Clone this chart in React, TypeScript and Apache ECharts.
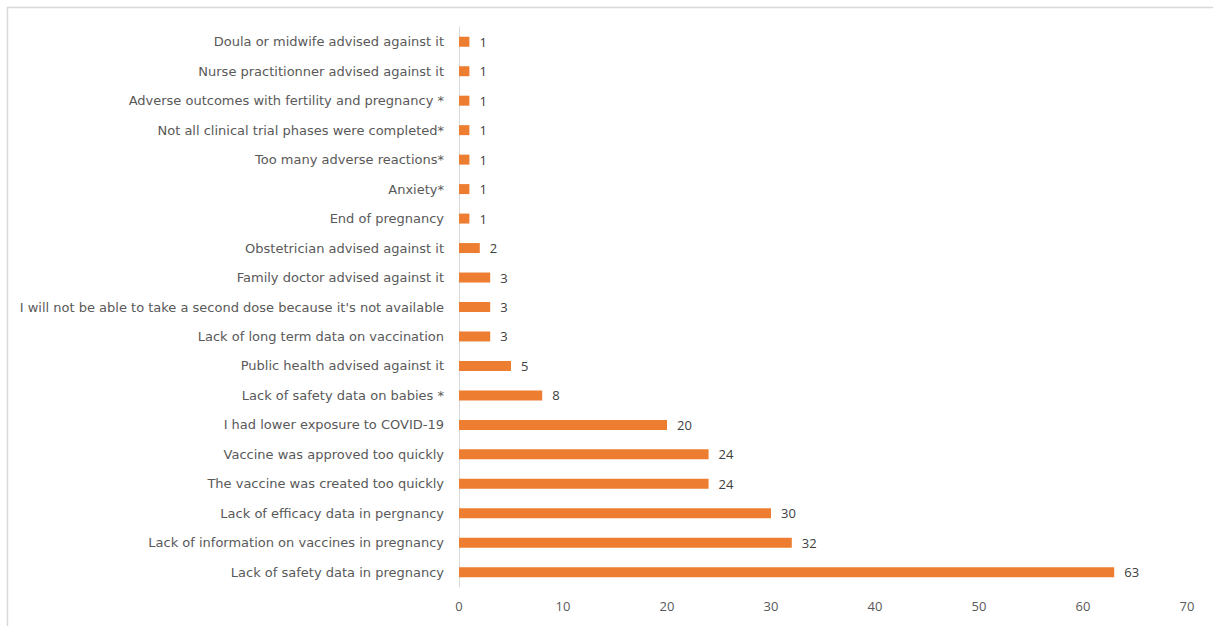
import React, { useEffect, useRef } from "react";
import * as echarts from "echarts";

const categories = [
  "Lack of safety data in pregnancy",
  "Lack of information on vaccines in pregnancy",
  "Lack of efficacy data in pergnancy",
  "The vaccine was created too quickly",
  "Vaccine was approved too quickly",
  "I had lower exposure to COVID-19",
  "Lack of safety data on babies *",
  "Public health advised against it",
  "Lack of long term data on vaccination",
  "I will not be able to take a second dose because it's not available",
  "Family doctor advised against it",
  "Obstetrician advised against it",
  "End of pregnancy",
  "Anxiety*",
  "Too many adverse reactions*",
  "Not all clinical trial phases were completed*",
  "Adverse outcomes with fertility and pregnancy *",
  "Nurse practitionner advised against it",
  "Doula or midwife advised against it",
];
const values = [63, 32, 30, 24, 24, 20, 8, 5, 3, 3, 3, 2, 1, 1, 1, 1, 1, 1, 1];
const xTicks = { min: 0, max: 70, interval: 10 };

export default function App() {
  const ref = useRef<HTMLDivElement>(null);
  useEffect(() => {
    if (!ref.current) return;
    const chart = echarts.init(ref.current, undefined, { renderer: "svg" });
    chart.setOption({
      animation: false,
      textStyle: { fontFamily: "'Open Sans', sans-serif" },
      graphic: [
        {
          type: "rect",
          shape: { x: 7.5, y: 7.5, width: 1230, height: 640 },
          style: { fill: "none", stroke: "#d9d9d9", lineWidth: 1.5 },
          silent: true,
        },
      ],
      grid: { left: 459, right: 26, top: 27, bottom: 39, containLabel: false },
      xAxis: {
        type: "value",
        min: xTicks.min,
        max: xTicks.max,
        interval: xTicks.interval,
        axisLine: { show: false },
        axisTick: { show: false },
        splitLine: { show: false },
        axisLabel: { color: "#595959", fontSize: 13, margin: 12 },
      },
      yAxis: {
        type: "category",
        data: categories,
        axisLine: { show: true, lineStyle: { color: "#d9d9d9", width: 1 } },
        axisTick: { show: false },
        axisLabel: {
          color: "#595959",
          fontSize: 13,
          margin: 15,
          fontFamily: "'DejaVu Sans', sans-serif",
        },
      },
      series: [
        {
          type: "bar",
          data: values,
          barWidth: 10,
          itemStyle: { color: "#ED7D31" },
          label: {
            show: true,
            position: "right",
            distance: 10,
            color: "#404040",
            fontSize: 13,
          },
        },
      ],
    });
    return () => chart.dispose();
  }, []);
  return (
    <div
      ref={ref}
      style={{ position: "fixed", left: 0, top: 0, width: 1213, height: 626, background: "#fff" }}
    />
  );
}
